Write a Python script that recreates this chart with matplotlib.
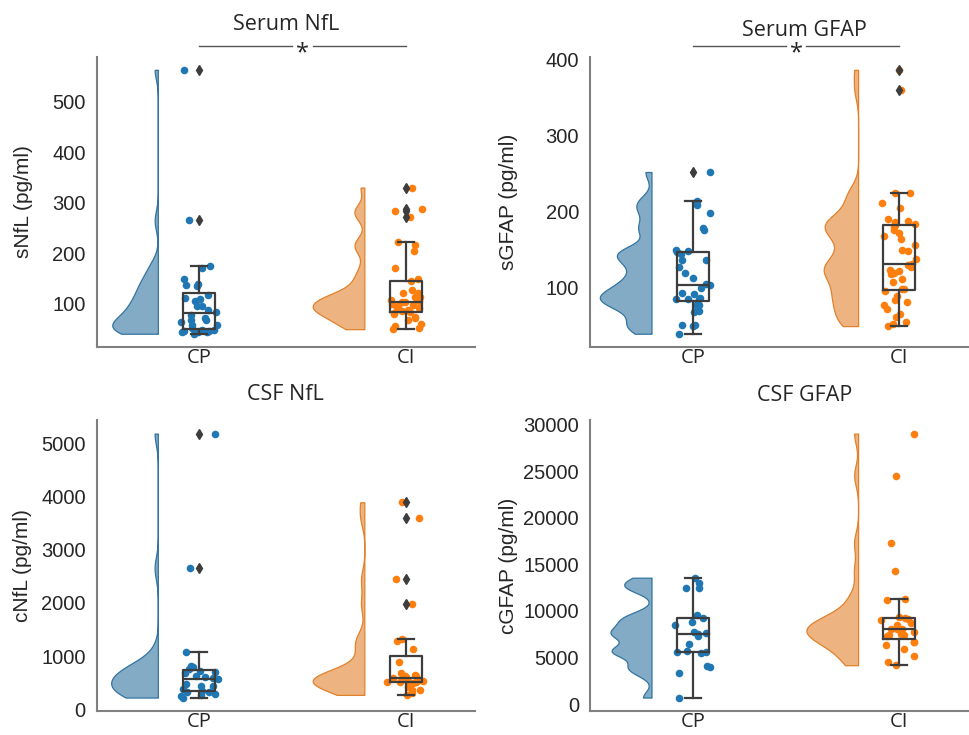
import colorsys
import numpy as np
import matplotlib
matplotlib.use("Agg")
import matplotlib.pyplot as plt

# groups and colours
groups = ["CP", "CI"]
colors = ["#1f77b4", "#ff7f0e"]

# serum NfL (pg/ml)
snfl_cp = [563, 265, 175, 170, 149, 136, 139, 137, 118, 112, 106, 110, 95, 95, 88, 83,
           79, 72, 68, 68, 64, 58, 58, 52, 49, 49, 45, 46, 45, 44, 41, 46]
snfl_ci = [330, 288, 283, 271, 223, 217, 205, 170, 150, 145, 127, 121, 121, 114, 114, 108,
           105, 104, 104, 100, 98, 95, 92, 92, 87, 86, 84, 82, 80, 75, 72, 68, 60, 57, 52, 50]

# serum GFAP (pg/ml)
sgfap_cp = [252, 214, 209, 198, 179, 176, 150, 148, 147, 144, 137, 137, 127, 120, 113, 105,
            104, 100, 93, 92, 87, 86, 86, 85, 78, 78, 70, 68, 52, 51, 50, 40]
sgfap_ci = [386, 360, 225, 224, 212, 205, 190, 188, 186, 185, 184, 182, 180, 176, 172, 168,
            164, 156, 150, 148, 138, 132, 130, 129, 128, 124, 122, 120, 118, 112, 108, 99,
            98, 96, 90, 84, 82, 78, 72, 66, 62, 56, 53, 50]

# CSF NfL (pg/ml)
cnfl_cp = [5180, 2650, 1075, 810, 800, 760, 720, 700, 690, 630, 600, 590, 560, 470, 440,
           430, 380, 350, 330, 320, 280, 265, 250, 220]
cnfl_ci = [3890, 3590, 2440, 1970, 1325, 1280, 1125, 895, 675, 650, 625, 625, 600, 590,
           570, 550, 530, 530, 520, 515, 510, 490, 410, 360, 355, 310, 270]

# CSF GFAP (pg/ml)
cgfap_cp = [13570, 13030, 12430, 12500, 9530, 9290, 8860, 8460, 7750, 7650, 7500, 7320,
            6430, 5710, 5540, 5610, 5580, 4110, 4000, 3320, 710]
cgfap_ci = [29030, 24530, 17320, 14290, 11320, 11140, 9350, 9200, 9110, 9050, 8680, 8500,
            8110, 8040, 8100, 7750, 7390, 7500, 7320, 7400, 6680, 6680, 6320, 5960, 5180,
            4570, 4180]

titles = ["Serum NfL", "Serum GFAP", "CSF NfL", "CSF GFAP"]
ylabels = ["sNfL (pg/ml)", "sGFAP (pg/ml)", "cNfL (pg/ml)", "cGFAP (pg/ml)"]
yticks = [[100, 200, 300, 400, 500],
          [100, 200, 300, 400],
          [0, 1000, 2000, 3000, 4000, 5000],
          [0, 5000, 10000, 15000, 20000, 25000, 30000]]
data = [[snfl_cp, snfl_ci], [sgfap_cp, sgfap_ci], [cnfl_cp, cnfl_ci], [cgfap_cp, cgfap_ci]]
signif = [True, True, False, False]
show_fliers = [True, True, True, False]

# layout (figure fractions) and x ranges
rects = [[0.100, 0.528, 0.390, 0.395],
         [0.609, 0.528, 0.442, 0.395],
         [0.100, 0.033, 0.390, 0.395],
         [0.609, 0.033, 0.442, 0.395]]
xlims = [(-0.495, 1.335), (-0.497, 1.576), (-0.495, 1.335), (-0.497, 1.576)]
title_pads = [19, 15, 14.5, 13.7]
label_x = [-0.169, -0.168, -0.172, -0.168]

box_col = "#3d3d3d"
spine_col = "#808080"
text_col = "#262626"


def desat(c, prop=0.75):
    r, g, b = matplotlib.colors.to_rgb(c)
    h, l, s = colorsys.rgb_to_hls(r, g, b)
    return colorsys.hls_to_rgb(h, l, s * prop)


def half_kde(vals, bw=0.2, n=300):
    v = np.asarray(vals, float)
    sd = v.std(ddof=1) * bw
    grid = np.linspace(v.min(), v.max(), n)
    z = (grid[:, None] - v[None, :]) / sd
    dens = np.exp(-0.5 * z ** 2).sum(axis=1) / (len(v) * sd * np.sqrt(2 * np.pi))
    return grid, dens


fig = plt.figure(figsize=(9.69, 7.35), dpi=100)
rng = np.random.default_rng(3)

for i in range(4):
    ax = fig.add_axes(rects[i])
    kdes = [half_kde(g) for g in data[i]]
    dmax = max(d.max() for _, d in kdes)
    for j, vals in enumerate(data[i]):
        c = colors[j]
        vc = desat(c)
        grid, dens = kdes[j]
        edge = j - 0.2
        ax.fill_betweenx(grid, edge - dens / dmax * 0.25, edge,
                         facecolor=matplotlib.colors.to_rgba(vc, 0.6),
                         edgecolor=vc, linewidth=0.9, zorder=1)
        ax.boxplot([vals], positions=[j], widths=0.155, manage_ticks=False,
                   showfliers=show_fliers[i],
                   boxprops=dict(color=box_col, linewidth=1.6),
                   whiskerprops=dict(color=box_col, linewidth=1.6),
                   capprops=dict(color=box_col, linewidth=1.6),
                   medianprops=dict(color=box_col, linewidth=1.6),
                   flierprops=dict(marker="d", markerfacecolor=box_col,
                                   markeredgecolor=box_col, markersize=5),
                   zorder=4)
        jit = rng.uniform(-0.09, 0.09, len(vals))
        ax.scatter(j + jit, vals, s=30, color=c, linewidths=0, zorder=3)

    ax.set_xlim(*xlims[i])
    ax.set_yticks(yticks[i])
    ax.set_xticks([0, 1])
    ax.set_xticklabels(groups, fontfamily="Open Sans", fontsize=14.5, color=text_col)
    for lab in ax.get_yticklabels():
        lab.set_fontfamily("Liberation Sans")
        lab.set_fontsize(14.5)
        lab.set_color(text_col)
    ax.tick_params(axis="both", length=0)
    ax.tick_params(axis="x", pad=1)
    ax.tick_params(axis="y", pad=8)
    ax.set_ylabel(ylabels[i], fontfamily="Liberation Sans", fontsize=15, color=text_col)
    ax.yaxis.set_label_coords(label_x[i], 0.5)
    ax.set_title(titles[i], fontfamily="Open Sans", fontsize=15.5, color=text_col,
                 pad=title_pads[i])
    for s in ["top", "right"]:
        ax.spines[s].set_visible(False)
    for s in ["left", "bottom"]:
        ax.spines[s].set_color(spine_col)
        ax.spines[s].set_linewidth(1.5)

    if signif[i]:
        tr = ax.get_xaxis_transform()
        ax.plot([0, 0.45], [1.037, 1.037], transform=tr, color="#555555", lw=1,
                clip_on=False)
        ax.plot([0.55, 1], [1.037, 1.037], transform=tr, color="#555555", lw=1,
                clip_on=False)
        ax.text(0.5, 1.012, "*", transform=tr, ha="center", va="center",
                fontfamily="Open Sans", fontsize=17, color=text_col)

fig.savefig("out.png", dpi=100)
